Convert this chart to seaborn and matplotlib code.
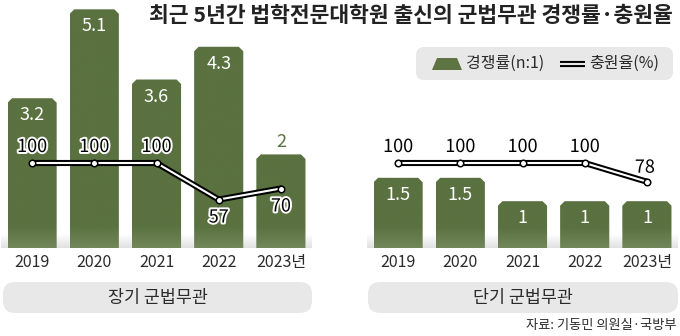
import numpy as np
import pandas as pd
import matplotlib
matplotlib.use("Agg")
import matplotlib.pyplot as plt
import seaborn as sns
from matplotlib.patches import Polygon, FancyBboxPatch
from matplotlib.lines import Line2D
import matplotlib.patheffects as pe
import matplotlib.colors as mcolors

# ---------------- data ----------------
years = ["2019", "2020", "2021", "2022", "2023년"]
long_rate = [3.2, 5.1, 3.6, 4.3, 2]
long_fill = [100, 100, 100, 57, 70]
short_rate = [1.5, 1.5, 1, 1, 1]
short_fill = [100, 100, 100, 100, 78]
panel_names = ["장기 군법무관", "단기 군법무관"]
title = "최근 5년간 법학전문대학원 출신의 군법무관 경쟁률·충원율"
legend_labels = ["경쟁률(n:1)", "충원율(%)"]
source = "자료: 기동민 의원실·국방부"

# ---------------- style ----------------
sns.set_theme(style="white")
plt.rcParams["font.family"] = ["Noto Sans CJK KR", "DejaVu Sans"]

W, H = 680, 336
GREEN_TOP = np.array(mcolors.to_rgb("#5a7140"))
GREEN_BOT = np.array(mcolors.to_rgb("#72875a"))
GREEN_TXT = "#5d7442"
GRAY_BOX = "#e8e8e8"
TXT = "#2b2b2b"

fig = plt.figure(figsize=(W / 100, H / 100), dpi=100)


def px(x0, y0, w, h):
    return [x0 / W, 1 - (y0 + h) / H, w / W, h / H]


PX_PER_UNIT = 46.8   # bar scale
PX_PER_CAT = 62.25


def panel(ax, rates, fills, inside, lab_off):
    df = pd.DataFrame({"year": years, "rate": rates})
    sns.barplot(data=df, x="year", y="rate", ax=ax, color="#5d7442",
                width=0.79, saturation=1, errorbar=None)
    ymax = 248 / PX_PER_UNIT
    ax.set_xlim(-0.5, 4.5)
    ax.set_ylim(0, ymax)

    # ground shadow
    band = np.ones((64, 1, 3))
    gcol = np.array(mcolors.to_rgb("#e3e1e3"))
    for i, t in enumerate(np.linspace(0, 1, 64)):
        band[i, 0, :] = 1 + (gcol - 1) * t
    ax.imshow(band, extent=(-0.5, 4.5, 0, 14 / PX_PER_UNIT), aspect="auto",
              zorder=0.5, interpolation="bilinear")

    cx = 4.5 / PX_PER_CAT
    cy = 4.5 / PX_PER_UNIT
    for p, v, ins in zip(list(ax.patches), rates, inside):
        x, w, h = p.get_x(), p.get_width(), p.get_height()
        poly = Polygon([(x, 0), (x, h - cy), (x + cx, h), (x + w - cx, h),
                        (x + w, h - cy), (x + w, 0)], closed=True,
                       fc="none", ec="none", zorder=2)
        ax.add_patch(poly)
        n = 200
        yv = np.linspace(h, 0, n)
        t = np.clip((0.45 - yv) / 0.45, 0, 1)
        img = (GREEN_TOP[None, :] + (GREEN_BOT - GREEN_TOP)[None, :] * t[:, None])[:, None, :]
        im = ax.imshow(img, extent=(x, x + w, 0, h), aspect="auto",
                       zorder=2, interpolation="bilinear")
        im.set_clip_path(poly)
        p.set_visible(False)
        xc = x + w / 2
        lbl = f"{v:g}"
        if ins:
            ax.text(xc, h - 17 / PX_PER_UNIT, lbl, color="white", fontsize=13,
                    ha="center", va="center", zorder=4)
        else:
            ax.text(xc, h + 12 / PX_PER_UNIT, lbl, color=GREEN_TXT, fontsize=13,
                    ha="center", va="center", zorder=4)
    ax.set_xlim(-0.5, 4.5)
    ax.set_ylim(0, ymax)
    ax.set_xticks(range(len(years)))
    ax.set_xticklabels(years, fontsize=11.5, color=TXT)
    ax.tick_params(axis="x", length=0, pad=4.5)
    ax.set_yticks([])
    ax.set_xlabel("")
    ax.set_ylabel("")
    for s in ax.spines.values():
        s.set_visible(False)

    # fill-rate line on twin axis
    ax2 = ax.twinx()
    dfl = pd.DataFrame({"pos": np.arange(len(years)), "fill": fills})
    sns.lineplot(data=dfl, x="pos", y="fill", ax=ax2, color="black",
                 linewidth=4.4, sort=False, zorder=5)
    sns.lineplot(data=dfl, x="pos", y="fill", ax=ax2, color="white",
                 linewidth=1.5, sort=False, zorder=6)
    sns.scatterplot(data=dfl, x="pos", y="fill", ax=ax2, color="white",
                    edgecolor="black", linewidth=1.1, s=22, zorder=7)
    ax2.set_ylim(0, 248 / 0.85)
    ax2.set_xlim(-0.5, 4.5)
    ax2.axis("off")
    halo = [pe.withStroke(linewidth=2.8, foreground="white")]
    for i, (v, off) in enumerate(zip(fills, lab_off)):
        ax2.annotate(f"{v:g}", (i, v), xytext=(off[0] * 0.72, off[1] * 0.72),
                     textcoords="offset points", ha="center", va="center",
                     fontsize=13, color="black", zorder=8, path_effects=halo)


axL = fig.add_axes(px(1, 0, 311, 248))
axR = fig.add_axes(px(367, 0, 311, 248))
panel(axL, long_rate, long_fill, [True, True, True, True, False],
      [(0, 16), (0, 16), (0, 16), (0, -18), (0, -18)])
panel(axR, short_rate, short_fill, [True] * 5,
      [(0, 16), (0, 16), (0, 16), (0, 16), (-2, 14)])

# panel name boxes
for (x0, x1), name in zip([(3, 312), (368, 678)], panel_names):
    fig.patches.append(FancyBboxPatch(((x0) / W, 1 - 313 / H), (x1 - x0) / W, 31 / H,
                                      boxstyle="round,pad=0,rounding_size=0.018",
                                      transform=fig.transFigure, fc=GRAY_BOX, ec="none",
                                      mutation_aspect=W / H))
    fig.text((x0 + x1) / 2 / W, 1 - 297.5 / H, name, ha="center", va="center",
             fontsize=12.5, color=TXT)

# legend box
fig.patches.append(FancyBboxPatch((416 / W, 1 - 80 / H), 257 / W, 33 / H,
                                  boxstyle="round,pad=0,rounding_size=0.012",
                                  transform=fig.transFigure, fc=GRAY_BOX, ec="none",
                                  mutation_aspect=W / H))
trap = [(432, 70), (437, 58), (457, 58), (462, 70)]
fig.patches.append(Polygon([(a / W, 1 - b / H) for a, b in trap], closed=True,
                           transform=fig.transFigure, fc="#5d7442", ec="none"))
fig.text(466 / W, 1 - 63.5 / H, legend_labels[0], ha="left", va="center",
         fontsize=11.5, color=TXT)
fig.lines.append(Line2D([560 / W, 585 / W], [1 - 63.5 / H] * 2, transform=fig.transFigure,
                        color="black", lw=4.4, solid_capstyle="butt"))
fig.lines.append(Line2D([559 / W, 586 / W], [1 - 63.5 / H] * 2, transform=fig.transFigure,
                        color=GRAY_BOX, lw=1.5, solid_capstyle="butt"))
fig.text(589 / W, 1 - 63.5 / H, legend_labels[1], ha="left", va="center",
         fontsize=11.5, color=TXT)

# title & source
fig.text(673 / W, 1 - 15 / H, title, ha="right", va="center", fontsize=15.5,
         fontweight="bold", color="#222222")
fig.text(677 / W, 1 - 325 / H, source, ha="right", va="center", fontsize=9.5,
         color=TXT)

fig.savefig("out.png", dpi=100)
